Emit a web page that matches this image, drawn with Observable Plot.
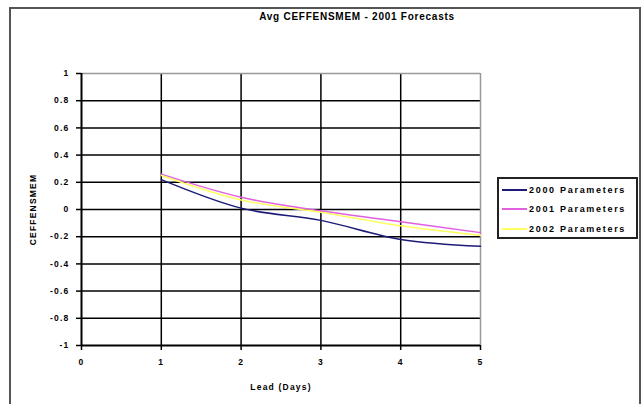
<!DOCTYPE html>
<html>
<head>
<meta charset="utf-8">
<script src="https://cdn.jsdelivr.net/npm/d3@7"></script>
<script src="https://cdn.jsdelivr.net/npm/@observablehq/plot@0.6"></script>
<style>
  body { margin: 0; background: #fff; }
  #chart { position: relative; width: 644px; height: 404px; overflow: hidden;
           font-family: "Liberation Sans", Arial, sans-serif; }
  #chart svg { position: absolute; left: 0; top: 0; letter-spacing: 1.2px; }
  #frame { position: absolute; left: 9px; top: 7px; width: 632px; height: 420px;
           border: 2px solid #555; box-sizing: border-box; pointer-events: none; }
  #title { position: absolute; top: 11px; left: 157px; width: 400px; text-align: center;
           white-space: nowrap; font-size: 10px; font-weight: bold; letter-spacing: 0.75px; color: #000; }
  #legend { position: absolute; left: 497px; top: 177px; width: 141px; height: 62px;
            border: 2px solid #222; box-sizing: border-box; background: #fff;
            padding: 1px 0 0 3px; }
  .item { display: flex; align-items: center; height: 19.5px; font-size: 9px;
          font-weight: bold; letter-spacing: 1.7px; white-space: nowrap; }
  .swatch { width: 25px; height: 2px; margin-right: 2px; }
</style>
</head>
<body>
<div id="chart">
  <div id="frame"></div>
  <div id="title">Avg CEFFENSMEM - 2001 Forecasts</div>
  <div id="legend"></div>
</div>
<script>
// Average CEFFENSMEM by forecast lead time, one line per parameter set
const leadDays = [1, 2, 3, 4, 5];
const params2000 = [0.22, 0.01, -0.08, -0.22, -0.27];
const params2001 = [0.26, 0.09, -0.01, -0.09, -0.17];
const params2002 = [0.25, 0.07, -0.02, -0.12, -0.19];

const seriesNames = ["2000 Parameters", "2001 Parameters", "2002 Parameters"];
const seriesColors = ["#1c1c78", "#e060e0", "#ffff60"];
const xTicks = [0, 1, 2, 3, 4, 5];
const yTicks = [-1, -0.8, -0.6, -0.4, -0.2, 0, 0.2, 0.4, 0.6, 0.8, 1];

const rows = [];
[params2000, params2001, params2002].forEach((vals, i) => {
  vals.forEach((v, j) => rows.push({ series: seriesNames[i], lead: leadDays[j], value: v }));
});

const innerY = yTicks.filter(v => v !== -1 && v !== 1);
const innerX = xTicks.filter(v => v !== 0 && v !== 5);

const chart = Plot.plot({
  width: 644,
  height: 404,
  marginLeft: 81,
  marginRight: 164,
  marginTop: 73,
  marginBottom: 59,
  style: { fontFamily: "Liberation Sans, Arial, sans-serif", fontSize: "8.5px", fontWeight: "bold", background: "transparent" },
  x: { domain: [0, 5] },
  y: { domain: [-1, 1] },
  color: { domain: seriesNames, range: seriesColors },
  marks: [
    // gridlines
    Plot.ruleY(innerY, { stroke: "#000", strokeWidth: 1.5 }),
    Plot.ruleX(innerX, { stroke: "#000", strokeWidth: 1.5 }),
    Plot.ruleY([1], { stroke: "#999", strokeWidth: 1.5 }),
    Plot.ruleX([5], { stroke: "#999", strokeWidth: 1.5 }),
    // axes
    Plot.ruleY([-1], { stroke: "#000", strokeWidth: 2 }),
    Plot.ruleX([0], { stroke: "#000", strokeWidth: 2 }),
    Plot.axisY({
      ticks: yTicks, tickSize: 5, tickPadding: 7, stroke: "#000", strokeWidth: 1.5,
      tickFormat: d => String(d),
      label: "CEFFENSMEM", labelAnchor: "center", labelOffset: 52, labelArrow: "none"
    }),
    Plot.axisX({
      ticks: xTicks, tickSize: 5, tickPadding: 8, stroke: "#000", strokeWidth: 1.5,
      tickFormat: d => String(d),
      label: "Lead (Days)", labelAnchor: "center", labelOffset: 44, labelArrow: "none"
    }),
    // series lines
    Plot.line(rows, { x: "lead", y: "value", z: "series", stroke: "series", strokeWidth: 1.5, curve: "monotone-x" })
  ]
});
document.getElementById("chart").prepend(chart);

// legend entries
const legend = document.getElementById("legend");
seriesNames.forEach((name, i) => {
  const item = document.createElement("div");
  item.className = "item";
  const sw = document.createElement("span");
  sw.className = "swatch";
  sw.style.background = seriesColors[i];
  item.appendChild(sw);
  item.appendChild(document.createTextNode(name));
  legend.appendChild(item);
});
</script>
</body>
</html>
